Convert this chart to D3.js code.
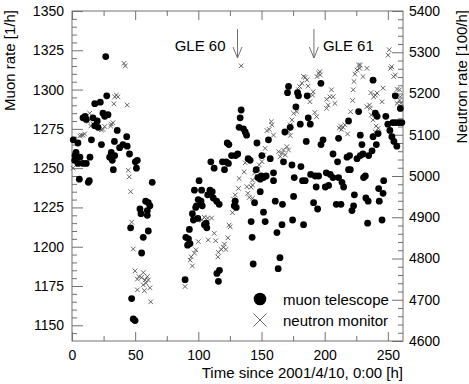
<!DOCTYPE html>
<html>
<head>
<meta charset="utf-8">
<script src="https://cdn.jsdelivr.net/npm/d3@7"></script>
<style>
  body { margin: 0; background: #fff; }
  svg text { font-family: "Liberation Sans", Arial, sans-serif; fill: #000; }
  .axis path, .axis line { stroke: #707070; }
  .axis text { font-size: 14px; }
</style>
</head>
<body>
<div id="chart"></div>
<script>
// muon telescope: [hours since 2001/4/10 0:00, rate 1/h]
const muon = [
  [1.0,1268],[4.7,1266],[3.2,1260],[2.4,1258],[2.1,1255],[4.7,1253],[6.3,1257],[8.7,1253],[11.3,1253],[14.2,1257],
  [15.4,1268],[5.8,1243],[13.7,1242],[12.9,1241],[10.3,1283],[8.7,1282],[11.3,1281],[16.6,1282],[18.0,1291],[22.4,1292],
  [20.0,1280],[18.0,1277],[20.6,1276],[24.5,1285],[28.5,1284],[25.9,1283],[26.7,1321],[27.5,1296],[23.3,1265],[35.8,1274],
  [43.3,1270],[33.6,1267],[37.7,1263],[40.3,1265],[43.7,1264],[45.5,1259],[31.1,1260],[33.8,1258],[29.8,1257],[31.9,1255],
  [32.7,1249],[51.7,1255],[50.1,1254],[51.0,1250],[63.5,1241],[58.3,1229],[60.4,1228],[61.7,1226],[59.6,1223],[53.8,1224],
  [54.6,1221],[59.6,1220],[46.4,1212],[60.4,1210],[56.4,1206],[55.1,1196],[47.2,1167],[48.5,1154],[49.9,1153],
  [133.9,1287],[133.1,1282],[132.3,1276],[135.7,1275],[137.1,1273],[138.2,1271],[122.9,1266],[124.2,1265],[146.4,1266],[168.5,1273],
  [129.5,1258],[126.3,1258],[131.2,1259],[109.9,1254],[112.5,1250],[119.1,1254],[122.0,1254],[120.7,1249],[123.8,1253],[139.4,1256],
  [141.0,1255],[150.3,1258],[156.9,1256],[167.4,1254],[145.8,1249],[147.1,1244],[149.8,1245],[151.6,1244],[153.7,1245],[149.0,1243],
  [159.5,1247],[159.5,1242],[100.6,1242],[96.9,1236],[102.6,1236],[109.2,1236],[111.0,1235],[107.4,1233],[111.8,1231],[114.5,1229],
  [116.5,1227],[99.9,1230],[102.1,1229],[98.6,1226],[97.9,1225],[103.1,1226],[129.2,1229],[128.4,1226],[130.0,1225],[149.0,1235],
  [144.5,1228],[160.9,1229],[166.6,1227],[95.3,1221],[96.1,1217],[99.6,1218],[106.2,1215],[104.8,1214],[106.7,1212],[151.6,1222],
  [152.9,1216],[141.8,1216],[166.2,1214],[162.2,1209],[92.9,1211],[90.1,1206],[92.2,1205],[93.4,1202],[91.5,1201],[142.6,1206],
  [143.4,1189],[164.6,1193],[163.2,1186],[116.7,1185],[114.7,1183],[115.9,1178],[89.5,1179],
  [171.4,1302],[170.6,1298],[178.5,1298],[179.3,1296],[186.2,1296],[197.0,1304],[177.2,1289],[187.0,1282],[188.6,1278],[180.7,1278],
  [172.7,1276],[185.4,1267],[198.7,1268],[197.1,1265],[211.0,1269],[218.9,1280],[228.2,1271],[226.9,1286],[238.3,1306],[240.1,1285],
  [241.5,1283],[242.3,1272],[240.9,1265],[255.9,1296],[259.9,1288],[248.4,1283],[250.0,1278],[251.6,1274],[253.2,1270],[254.8,1267],
  [257.1,1264],[254.0,1279],[256.4,1279],[258.8,1279],[261.1,1279],[229.5,1265],[237.5,1261],[234.8,1258],[238.3,1270],[155.5,1268],
  [174.1,1252],[181.2,1251],[206.6,1259],[210.2,1254],[217.7,1257],[219.7,1258],[225.6,1256],[228.2,1258],[230.3,1259],[175.9,1244],
  [182.5,1242],[184.6,1242],[188.9,1246],[192.5,1245],[195.2,1245],[201.3,1247],[204.4,1246],[206.6,1244],[211.0,1244],[213.7,1241],
  [215.0,1238],[218.9,1249],[220.3,1249],[193.3,1238],[200.5,1238],[203.1,1239],[230.8,1244],[232.2,1245],[246.7,1242],[242.7,1237],
  [246.2,1234],[175.4,1232],[223.5,1233],[232.6,1231],[234.4,1229],[243.2,1229],[191.2,1228],[194.4,1224],[209.2,1227],[212.9,1227],
  [222.9,1226],[221.6,1223],[174.6,1217],[183.3,1214],[234.0,1215],[245.4,1217]
];

// neutron monitor: [hours, rate 100/h]
const neutron = [
  [0.8,5019],[6.1,5097],[7.4,5099],[8.7,5099],[10.0,5102],[14.0,5152],[12.7,5132],[16.6,5126],[14.8,5121],[23.2,5112],
  [24.5,5113],[25.9,5120],[31.1,5126],[32.4,5129],[30.6,5121],[35.1,5196],[36.4,5192],[33.8,5192],[33.2,5175],[43.7,5172],
  [41.1,5273],[42.2,5267],[44.5,5014],[45.3,4998],[46.4,4962],[47.2,4888],[48.5,4823],[49.9,4770],[56.4,4766],[53.0,4756],
  [51.7,4750],[55.1,4754],[57.8,4748],[59.6,4756],[60.4,4748],[58.6,4740],[56.4,4736],[61.7,4729],[51.7,4724],[57.3,4722],
  [62.3,4695],
  [89.5,4732],[100.0,4841],[98.0,4821],[96.9,4813],[94.3,4804],[93.5,4796],[95.3,4782],[104.7,4900],[107.4,4898],[110.5,4898],
  [112.6,4861],[113.7,4843],[107.8,4845],[105.9,4877],[102.8,4893],[123.4,4850],[120.7,4835],[119.9,4827],[118.1,4822],[115.9,4815],
  [121.8,4822],[115.5,4804],[124.4,4881],[125.2,4877],[127.0,4911],[129.2,4954],[127.8,4944],[129.5,4934],[137.1,5032],[136.3,5010],
  [132.3,4994],[131.8,4970],[138.4,4974],[141.8,4973],[142.9,4978],[139.2,4958],[140.3,4948],[142.9,4946],[133.9,5267],[152.9,5067],
  [151.6,5051],[150.3,5035],[148.2,5027],[147.1,5016],[144.5,5007],[142.9,4990],[157.7,5132],[158.2,5124],[156.1,5113],[154.3,5110],
  [159.5,5099],[163.5,5059],[166.2,5055],[167.4,5063],[164.8,5047],[168.8,5051],[170.1,5071],[171.4,5063],
  [175.4,5152],[174.1,5136],[172.7,5124],[171.4,5107],[172.7,5098],[178.0,5156],[180.1,5217],[179.3,5209],[182.0,5225],[183.3,5241],
  [186.0,5233],[184.6,5239],[195.2,5249],[196.5,5245],[193.9,5241],[196.2,5253],[190.9,5204],[186.9,5218],[190.4,5196],[188.3,5180],
  [192.2,5154],[193.6,5144],[205.4,5209],[204.1,5192],[206.7,5192],[208.1,5176],[202.8,5172],[201.5,5164],[201.5,5186],[212.6,5121],
  [211.5,5116],[214.6,5118],[216.0,5124],[213.4,5113],[218.1,5102],[220.5,5156],[222.1,5183],[222.6,5209],[223.2,5229],[224.0,5247],
  [225.6,5257],[226.9,5269],[227.7,5261],[230.3,5241],[228.2,5269],[233.5,5261],[236.6,5202],[235.5,5172],[236.1,5164],[240.1,5196],
  [238.8,5192],[241.5,5201],[245.4,5180],[246.2,5213],[236.9,5148],[238.3,5136],[240.7,5121],[242.5,5116],[239.9,5107],[241.5,5148],
  [250.2,5293],[251.1,5306],[253.0,5265],[252.2,5261],[255.9,5245],[254.6,5241],[257.3,5210],[259.3,5209],[259.9,5192],[259.3,5184],
  [257.3,5176],[260.4,5176],[233.4,5168]
];

const xTicks = [0, 50, 100, 150, 200, 250];
const muonTicks = [1150, 1175, 1200, 1225, 1250, 1275, 1300, 1325, 1350];
const neutronTicks = [4600, 4700, 4800, 4900, 5000, 5100, 5200, 5300, 5400];
const events = [{label: 'GLE 60', t: 131}, {label: 'GLE 61', t: 191.5}];
const legendItems = ['muon telescope', 'neutron monitor'];

const w = 469, h = 384;
const pLeft = 72, pRight = 403, pTop = 11, pBottom = 341;

const x = d3.scaleLinear().domain([0, 262]).range([pLeft, pRight]);
const yMuon = d3.scaleLinear().domain([1140, 1350]).range([pBottom, pTop]);
const yNeutron = d3.scaleLinear().domain([4600, 5400]).range([pBottom, pTop]);

const svg = d3.select('#chart').append('svg').attr('width', w).attr('height', h);

// frame
svg.append('rect')
   .attr('x', pLeft).attr('y', pTop)
   .attr('width', pRight - pLeft).attr('height', pBottom - pTop)
   .attr('fill', 'none').attr('stroke', '#707070');

// bottom axis, ticks pointing inward
svg.append('g').attr('class', 'axis')
   .attr('transform', `translate(0,${pBottom})`)
   .call(d3.axisBottom(x).tickValues(xTicks).tickSize(-9).tickPadding(9).tickFormat(d3.format('d')));
svg.append('g').attr('class', 'axis')
   .attr('transform', `translate(0,${pBottom})`)
   .call(d3.axisBottom(x).tickValues(d3.range(25, 262, 50)).tickSize(-5).tickFormat(''));
// top mirror
svg.append('g').attr('class', 'axis')
   .attr('transform', `translate(0,${pTop})`)
   .call(d3.axisTop(x).tickValues(xTicks).tickSize(-9).tickFormat(''));
svg.append('g').attr('class', 'axis')
   .attr('transform', `translate(0,${pTop})`)
   .call(d3.axisTop(x).tickValues(d3.range(25, 262, 50)).tickSize(-5).tickFormat(''));

// left axis (muon)
svg.append('g').attr('class', 'axis')
   .attr('transform', `translate(${pLeft},0)`)
   .call(d3.axisLeft(yMuon).tickValues(muonTicks).tickSize(-11).tickPadding(8).tickFormat(d3.format('d')));
svg.append('g').attr('class', 'axis')
   .attr('transform', `translate(${pLeft},0)`)
   .call(d3.axisLeft(yMuon).tickValues(d3.range(1145, 1350, 5).filter(v => v % 25 !== 0)).tickSize(-5).tickFormat(''));

// right axis (neutron)
svg.append('g').attr('class', 'axis')
   .attr('transform', `translate(${pRight},0)`)
   .call(d3.axisRight(yNeutron).tickValues(neutronTicks).tickSize(-11).tickPadding(6).tickFormat(d3.format('d')));
svg.append('g').attr('class', 'axis')
   .attr('transform', `translate(${pRight},0)`)
   .call(d3.axisRight(yNeutron).tickValues(d3.range(4620, 5400, 20).filter(v => v % 100 !== 0)).tickSize(-5).tickFormat(''));

svg.selectAll('.axis .domain').remove();

// neutron crosses
const cross = (cx, cy, s) => `M${cx - s},${cy - s}L${cx + s},${cy + s}M${cx - s},${cy + s}L${cx + s},${cy - s}`;
svg.append('g').selectAll('path')
   .data(neutron).enter().append('path')
   .attr('d', d => cross(x(d[0]), yNeutron(d[1]), 2.3))
   .attr('stroke', '#555').attr('stroke-width', 0.9).attr('fill', 'none');

// muon dots
svg.append('g').selectAll('circle')
   .data(muon).enter().append('circle')
   .attr('cx', d => x(d[0]))
   .attr('cy', d => yMuon(d[1]))
   .attr('r', 3.4)
   .attr('fill', '#000');

// GLE markers
events.forEach((e, i) => {
  const ex = x(e.t);
  svg.append('path')
     .attr('d', `M${ex},29L${ex},58M${ex - 4.5},47L${ex},58L${ex + 4.5},47`)
     .attr('stroke', '#707070').attr('fill', 'none').attr('stroke-width', 1);
  svg.append('text')
     .attr('x', i === 0 ? ex - 12 : ex + 9)
     .attr('y', 51)
     .attr('text-anchor', i === 0 ? 'end' : 'start')
     .style('font-size', '15px')
     .text(e.label);
});

// legend
svg.append('circle').attr('cx', 260).attr('cy', 299).attr('r', 6.3).attr('fill', '#000');
svg.append('path').attr('d', cross(260, 320, 6.5)).attr('stroke', '#555').attr('stroke-width', 0.9);
legendItems.forEach((t, i) => {
  svg.append('text')
     .attr('x', 283).attr('y', 304.5 + i * 21)
     .style('font-size', '15px')
     .text(t);
});

// axis titles
svg.append('text')
   .attr('x', pRight).attr('y', 378)
   .attr('text-anchor', 'end')
   .style('font-size', '15px')
   .text('Time since 2001/4/10, 0:00 [h]');
svg.append('text')
   .attr('transform', `translate(15,${pTop - 1}) rotate(-90)`)
   .attr('text-anchor', 'end')
   .style('font-size', '15px')
   .text('Muon rate [1/h]');
svg.append('text')
   .attr('transform', `translate(467,${pTop - 1}) rotate(-90)`)
   .attr('text-anchor', 'end')
   .style('font-size', '15px')
   .text('Neutron rate [100/h]');
</script>
</body>
</html>
